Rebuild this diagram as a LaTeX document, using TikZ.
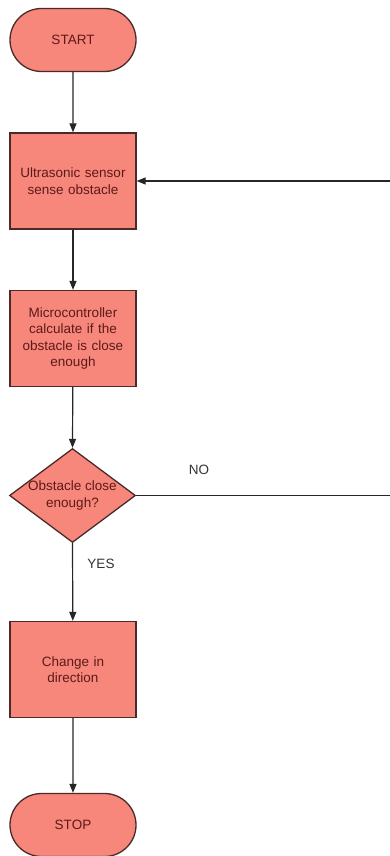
\documentclass[tikz,border=0pt]{standalone}
\usepackage{fontspec}
\setmainfont{Liberation Sans}
\usetikzlibrary{shapes.geometric,shapes.misc,arrows.meta}
\definecolor{boxfill}{HTML}{F7877A}
\definecolor{boxline}{HTML}{4A2A2A}
\definecolor{boxtext}{HTML}{5C1A1A}
\newcommand{\zw}[1]{\makebox[0pt]{#1}}
\begin{document}
\begin{tikzpicture}[x=1pt,y=-1pt,
  base/.style={draw=boxline,fill=boxfill,line width=1.3pt,text=boxtext,
    font=\fontsize{13.5}{16.5}\selectfont,align=center,inner sep=0pt},
  terminal/.style={base,rounded rectangle,minimum width=126pt,minimum height=63pt},
  process/.style={base,rectangle,minimum width=126pt,minimum height=96pt,text width=120pt},
  decision/.style={base,diamond,minimum width=126pt,minimum height=94pt,aspect=1.34},
  flow/.style={line width=1.2pt,draw=black!85,-{Triangle[length=9pt,width=7pt]}},
  lbl/.style={font=\fontsize{13.5}{16}\selectfont,text=black!80}]
\useasboundingbox (0,0) rectangle (390,856);
\node[terminal] (start) at (73,40) {START};
\node[process] (sense) at (73,181) {Ultrasonic sensor\\sense obstacle};
\node[process] (calc) at (73,338.5) {Microcontroller\\calculate if the\\obstacle is close\\enough};
\node[decision] (dec) at (72.5,495.5) {\zw{Obstacle close}\\\zw{enough?}};
\node[process] (turn) at (73,669.5) {Change in\\direction};
\node[terminal] (stop) at (73,825) {STOP};
\coordinate (nocorner) at (393,495.5);
\coordinate (backcorner) at (393,181);
\draw[flow] (start) -- (sense);
\draw[flow] (sense) -- (calc);
\draw[flow] (calc) -- (dec.north);
\draw[flow] (dec.south) -- (turn);
\draw[flow] (turn) -- (stop);
\draw[flow] (dec.east) -- (nocorner) -- (backcorner) -- (sense.east);
\node[lbl] (no) at (199,470) {NO};
\node[lbl] (yes) at (101,564) {YES};
\end{tikzpicture}
\end{document}
